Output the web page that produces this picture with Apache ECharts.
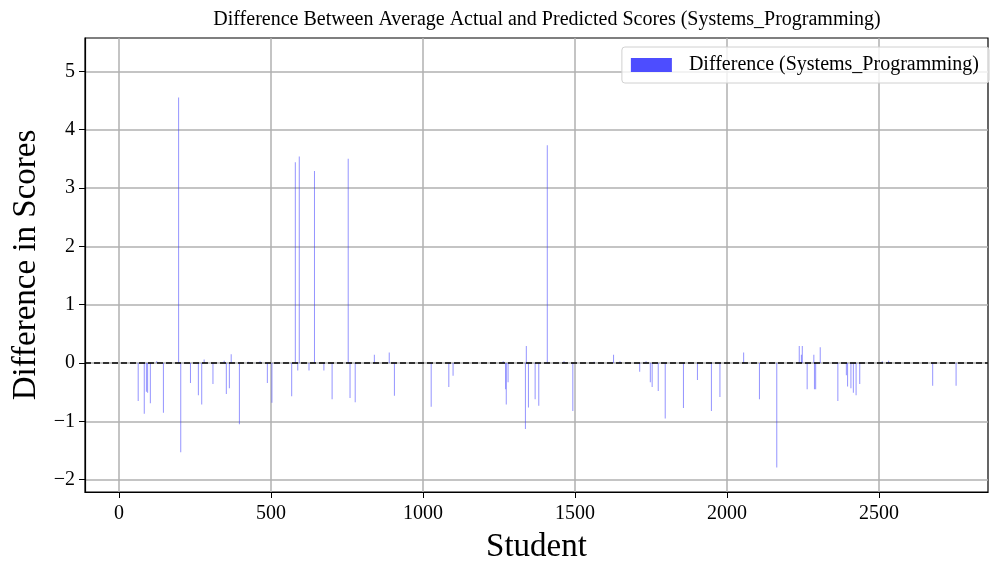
<!DOCTYPE html>
<html>
<head>
<meta charset="utf-8">
<script src="https://cdn.jsdelivr.net/npm/echarts@6/dist/echarts.min.js"></script>
<style>
  html, body { margin: 0; padding: 0; background: #fff; }
  #chart { width: 990px; height: 561px; }
</style>
</head>
<body>
<div id="chart"></div>
<script>
// student index of each visible bar
var students = [63, 83, 90, 94, 103, 124, 146, 196, 203, 235, 261, 272, 280, 309, 346, 353, 363, 369, 396, 425,
  464, 488, 503, 568, 580, 588, 593, 625, 643, 674, 701, 754, 760, 777, 840,
  889, 906, 1027, 1085, 1099, 1264, 1272, 1274, 1280, 1337, 1340, 1347, 1369, 1381, 1409,
  1464, 1493, 1563, 1627, 1648, 1713, 1734, 1748, 1754, 1774, 1797,
  1857, 1903, 1949, 1977, 2055, 2107, 2164, 2238, 2245, 2248, 2264, 2286, 2288, 2292, 2307,
  2365, 2393, 2397, 2408, 2416, 2425, 2437, 2511, 2532, 2677, 2754];
// actual minus predicted
var diffs = [-0.65, -0.87, -0.49, -0.51, -0.69, 0.03, -0.85, 4.55, -1.53, -0.34, -0.55, -0.71, 0.06, -0.36, 0.04, -0.53, -0.43, 0.15, -1.05, 0.02,
  0.03, -0.34, -0.68, -0.57, 3.44, -0.13, 3.54, -0.13, 3.29, -0.13, -0.62, 3.50, -0.60, -0.67, 0.14,
  0.18, -0.56, -0.75, -0.41, -0.22, 0.03, -0.45, -0.71, -0.33, -1.13, 0.29, -0.76, -0.62, -0.73, 3.73,
  0.03, -0.82, 0.02, 0.14, 0.03, -0.15, 0.03, -0.33, -0.41, -0.48, -0.95,
  -0.77, -0.29, -0.82, -0.58, 0.18, -0.62, -1.79, 0.29, 0.14, 0.29, -0.45, 0.14, -0.45, -0.45, 0.27,
  -0.65, -0.21, -0.40, -0.43, -0.51, -0.55, -0.36, 0.03, 0.04, -0.39, -0.39];
var xTicks = [0, 500, 1000, 1500, 2000, 2500];
var yTicks = [-2, -1, 0, 1, 2, 3, 4, 5];
var seriesName = 'Difference (Systems_Programming)';

var serif = '"Liberation Serif", "DejaVu Serif", serif';
var points = [];
for (var i = 0; i < students.length; i++) {
  points.push([students[i], diffs[i]]);
}

var chart = echarts.init(document.getElementById('chart'));
chart.setOption({
  animation: false,
  title: {
    text: 'Difference Between Average Actual and Predicted Scores (Systems_Programming)',
    left: 542,
    textAlign: 'center',
    top: 5,
    textStyle: { fontFamily: serif, fontSize: 20, fontWeight: 'normal', color: '#000' }
  },
  legend: {
    right: 1,
    top: 47,
    itemWidth: 41,
    itemHeight: 14,
    padding: [8, 10, 8, 9],
    borderColor: '#d0d0d0',
    borderWidth: 1,
    borderRadius: 3,
    backgroundColor: 'rgba(255,255,255,0.8)',
    textStyle: { fontFamily: serif, fontSize: 20, color: '#000', padding: [0, 0, 0, 12] },
    data: [{ name: seriesName, icon: 'rect', itemStyle: { color: '#4d4dff' } }]
  },
  grid: {
    left: 85, right: 2, top: 38, bottom: 69,
    outerBoundsMode: 'none',
    show: true, borderColor: '#000', borderWidth: 1.2, backgroundColor: 'transparent'
  },
  xAxis: {
    type: 'value',
    min: -112,
    max: 2859,
    name: 'Student',
    nameLocation: 'middle',
    nameGap: 39,
    nameTextStyle: { fontFamily: serif, fontSize: 33, color: '#000' },
    axisLine: { show: true, onZero: false, lineStyle: { color: '#000', width: 1.2 } },
    axisTick: { show: true, length: 6, customValues: xTicks, lineStyle: { color: '#000' } },
    axisLabel: {
      customValues: xTicks, fontFamily: serif, fontSize: 20, color: '#000', margin: 12,
      formatter: function (v) { return String(v); }
    },
    splitLine: { show: true, lineStyle: { color: '#b0b0b0', width: 1.5 } }
  },
  yAxis: {
    type: 'value',
    min: -2.21,
    max: 5.57,
    name: 'Difference in Scores',
    nameLocation: 'middle',
    nameGap: 39,
    nameTextStyle: { fontFamily: serif, fontSize: 33, color: '#000' },
    axisLine: { show: true, onZero: false, lineStyle: { color: '#000', width: 1.2 } },
    axisTick: { show: true, length: 6, customValues: yTicks, lineStyle: { color: '#000' } },
    axisLabel: {
      customValues: yTicks, fontFamily: serif, fontSize: 20, color: '#000', margin: 10,
      formatter: function (v) { return v < 0 ? '\u2212' + Math.abs(v) : String(v); }
    },
    splitLine: { show: true, lineStyle: { color: '#b0b0b0', width: 1.5 } }
  },
  series: [{
    name: seriesName,
    type: 'bar',
    barWidth: 1,
    itemStyle: { color: 'rgba(60,60,255,0.55)' },
    data: points,
    markLine: {
      silent: true,
      symbol: 'none',
      label: { show: false },
      lineStyle: { color: '#000', type: [6, 3], width: 1.5 },
      data: [{ yAxis: 0 }]
    }
  }]
});
</script>
</body>
</html>
